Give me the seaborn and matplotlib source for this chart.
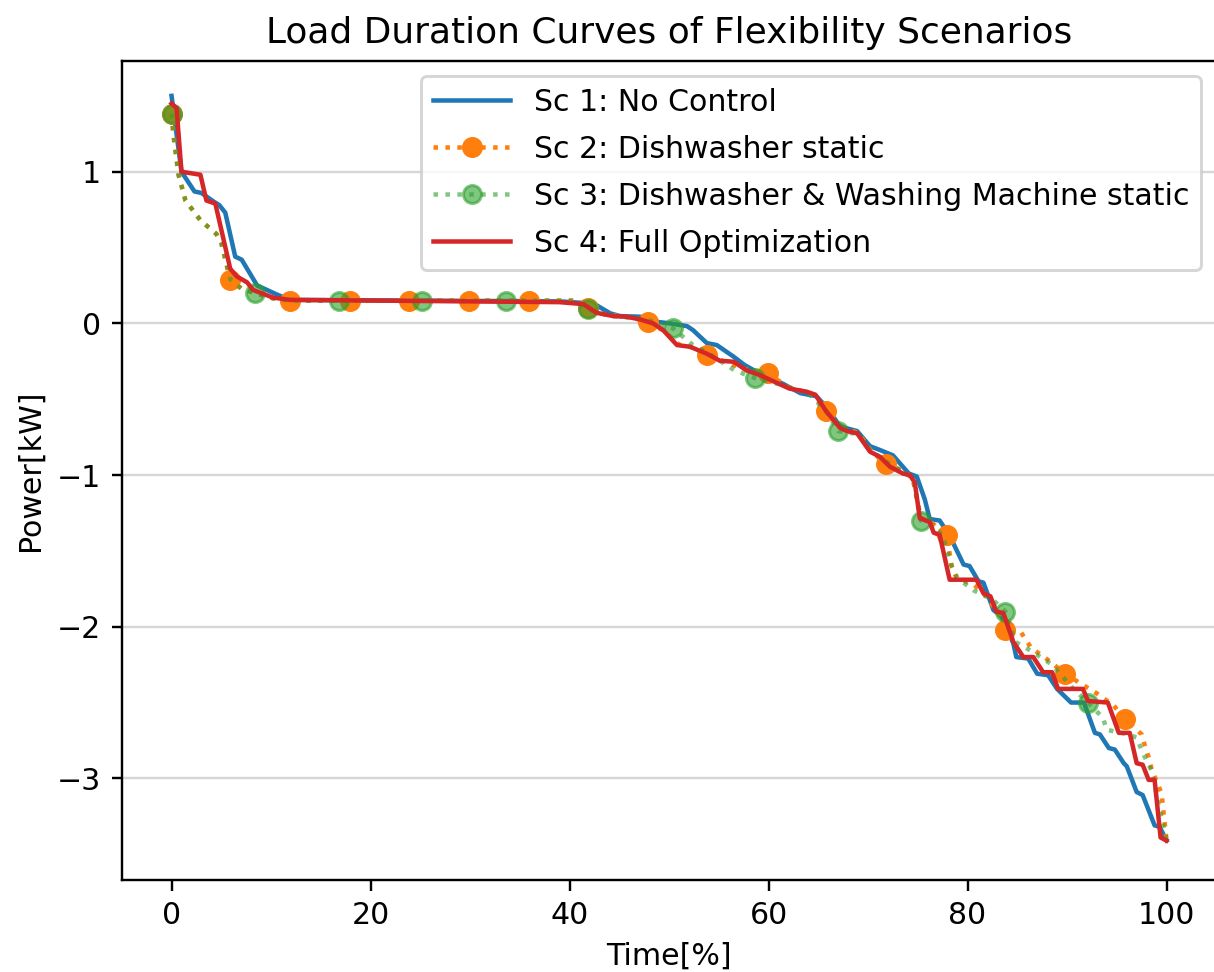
import numpy as np
import matplotlib
matplotlib.use("Agg")
import matplotlib.pyplot as plt
import seaborn as sns
from matplotlib.legend_handler import HandlerTuple

# ---------------- data ----------------
labels = ["Sc 1: No Control",
          "Sc 2: Dishwasher static",
          "Sc 3: Dishwasher & Washing Machine static",
          "Sc 4: Full Optimization"]

sc1_x = [0, 1.0, 2.3, 3.0, 4.3, 4.8, 5.4, 6.4, 7.05, 8.6, 10.6, 11.9, 39, 41.1, 42.7,
         44.1, 45.1, 47.1, 48.8, 50.1, 51.8, 52.4, 53.8, 54.8, 56.5, 57.6, 59.1, 61.5,
         63.2, 64.8, 65.8, 67.2, 68.9, 70.2, 71.2, 72.5, 74.1, 74.9, 75.7, 76.2, 77.2,
         78.2, 79.6, 80.2, 81.1, 81.6, 82.6, 83.4, 84.6, 84.9, 86.1, 87.0, 88.1, 89.0,
         90.4, 91.7, 92.8, 93.3, 94.2, 94.8, 95.7, 96.0, 97.0, 97.6, 98.8, 99.3, 100]
sc1_y = [1.50, 1.0, 0.87, 0.86, 0.80, 0.78, 0.73, 0.44, 0.42, 0.25, 0.19, 0.155, 0.145,
         0.136, 0.12, 0.066, 0.048, 0.044, 0.01, 0.0, -0.018, -0.044, -0.13, -0.143,
         -0.22, -0.275, -0.33, -0.40, -0.46, -0.48, -0.55, -0.68, -0.71, -0.81, -0.835,
         -0.87, -0.99, -1.01, -1.16, -1.29, -1.30, -1.40, -1.59, -1.60, -1.70, -1.71,
         -1.89, -1.93, -2.11, -2.20, -2.21, -2.31, -2.32, -2.41, -2.50, -2.50, -2.70,
         -2.71, -2.80, -2.81, -2.90, -2.92, -3.09, -3.11, -3.31, -3.32, -3.41]

sc2_x = [0, 0.2, 0.7, 1.4, 2.9, 4.5, 5.0, 5.9, 7.0, 8.4, 10.2, 11.9, 40.5, 41.9, 43.5,
         46, 47.9, 49.5, 51, 52.5, 53.8, 55.5, 57.5, 59.9, 62, 64.5, 65.8, 67.2, 69,
         70.3, 71.8, 73.5, 74.5, 75.3, 76.5, 77.9, 78.4, 78.9, 80.6, 81.6, 83.0, 83.8,
         85.3, 86.4, 88.1, 89.8, 91.5, 93, 94.7, 95.8, 97.5, 97.8, 98.2, 98.5, 99.5, 100]
sc2_y = [1.38, 1.24, 0.98, 0.81, 0.68, 0.59, 0.53, 0.29, 0.23, 0.20, 0.165, 0.15, 0.15,
         0.10, 0.06, 0.04, 0.01, -0.05, -0.14, -0.16, -0.21, -0.25, -0.30, -0.33, -0.42,
         -0.47, -0.58, -0.69, -0.72, -0.84, -0.93, -0.97, -1.02, -1.28, -1.32, -1.395,
         -1.60, -1.68, -1.72, -1.78, -1.90, -2.02, -2.03, -2.14, -2.22, -2.31, -2.38,
         -2.44, -2.52, -2.61, -2.71, -2.78, -2.86, -2.94, -3.10, -3.41]
sc2_mx = [0, 5.9, 11.9, 17.9, 23.9, 29.9, 35.9, 41.9, 47.9, 53.8, 59.9, 65.8, 71.8,
          77.9, 83.8, 89.8, 95.8]
sc2_my = [1.38, 0.285, 0.15, 0.15, 0.15, 0.15, 0.15, 0.10, 0.01, -0.21, -0.33, -0.58,
          -0.93, -1.395, -2.02, -2.31, -2.61]

sc3_x = [0, 0.2, 0.7, 1.4, 2.9, 4.5, 5.0, 5.9, 7.0, 8.4, 10.2, 11.9, 40.5, 41.9, 44,
         47.5, 50.4, 52.4, 54, 56.6, 58.6, 61, 64, 65.8, 67.0, 69, 70.3, 72, 74.5, 75.3,
         76.5, 77.5, 78.4, 79, 80.6, 82.5, 83.8, 84.8, 86.4, 88.5, 90.5, 92.1, 93.6,
         94.0, 95.5, 97.0, 97.6, 98.5, 99.3, 100]
sc3_y = [1.38, 1.24, 0.98, 0.81, 0.68, 0.59, 0.53, 0.29, 0.23, 0.20, 0.165, 0.15, 0.15,
         0.092, 0.05, 0.03, -0.033, -0.143, -0.20, -0.31, -0.36, -0.40, -0.46, -0.58,
         -0.71, -0.73, -0.84, -0.92, -1.02, -1.30, -1.33, -1.40, -1.60, -1.68, -1.76,
         -1.82, -1.90, -2.10, -2.16, -2.25, -2.40, -2.50, -2.60, -2.68, -2.70, -2.73,
         -2.83, -2.95, -3.20, -3.41]
sc3_mx = [0, 8.4, 16.8, 25.2, 33.6, 41.9, 50.4, 58.6, 67.0, 75.3, 83.8, 92.1]
sc3_my = [1.38, 0.20, 0.15, 0.15, 0.15, 0.092, -0.033, -0.36, -0.71, -1.30, -1.90, -2.50]

sc4_x = [0, 0.5, 1.0, 2.9, 3.5, 4.4, 5.9, 6.55, 7.6, 8.2, 10.2, 11.9, 39, 41.4, 42.7,
         44.4, 45.7, 47.1, 48.4, 49.4, 50.8, 52.1, 53.8, 55.1, 56.5, 57.8, 59.1, 61.1,
         62.1, 63.8, 64.7, 65.8, 67.2, 67.9, 68.9, 70.2, 71.2, 72.2, 73.5, 74.2, 74.7,
         75.2, 76.2, 76.6, 77.2, 78.2, 80.9, 81.6, 82.3, 82.9, 83.6, 84.6, 85.6, 86.6,
         87.6, 88.5, 89.1, 91.6, 92.1, 94.1, 95.2, 96.3, 97.0, 97.6, 98.2, 98.8, 99.4, 100]
sc4_y = [1.45, 1.42, 1.0, 0.98, 0.81, 0.79, 0.36, 0.31, 0.27, 0.22, 0.17, 0.155, 0.14,
         0.127, 0.07, 0.048, 0.044, 0.026, 0.0, -0.044, -0.143, -0.154, -0.20, -0.246,
         -0.253, -0.31, -0.34, -0.40, -0.43, -0.45, -0.47, -0.58, -0.69, -0.71, -0.725,
         -0.846, -0.88, -0.945, -0.99, -1.0, -1.05, -1.285, -1.31, -1.38, -1.395, -1.69,
         -1.69, -1.78, -1.80, -1.90, -1.91, -2.10, -2.20, -2.20, -2.30, -2.30, -2.41,
         -2.41, -2.49, -2.50, -2.70, -2.70, -2.90, -2.91, -3.01, -3.01, -3.39, -3.41]

x_ticks = [0, 20, 40, 60, 80, 100]
y_ticks = [-3, -2, -1, 0, 1]

# ---------------- figure ----------------
DPI = 216
fig = plt.figure(figsize=(1214 / DPI, 972 / DPI), dpi=DPI)
ax = fig.add_axes([121.8 / 1214, 92 / 972, (1216.3 - 121.8) / 1214, (880 - 60.7) / 972])

c_blue, c_orange, c_green, c_red = "#1f77b4", "#ff7f0e", "#2ca02c", "#d62728"

sns.lineplot(x=sc1_x, y=sc1_y, ax=ax, color=c_blue, lw=1.5, sort=False)
sns.lineplot(x=sc2_x, y=sc2_y, ax=ax, color=c_orange, lw=1.5, linestyle=":", sort=False)
ax.plot(sc2_mx, sc2_my, "o", color=c_orange, ms=6, linestyle="none")
sns.lineplot(x=sc3_x, y=sc3_y, ax=ax, color=c_green, lw=1.5, linestyle=":", alpha=0.6, sort=False)
ax.plot(sc3_mx, sc3_my, "o", color=c_green, ms=6, alpha=0.6, linestyle="none")
sns.lineplot(x=sc4_x, y=sc4_y, ax=ax, color=c_red, lw=1.5, sort=False)

lines = ax.get_lines()
h1 = lines[0]
h2 = (lines[1], lines[2])
h3 = (lines[3], lines[4])
h4 = lines[5]

ax.set_xlim(-5, 105)
ax.set_ylim(-3.67, 1.732)
ax.set_xticks(x_ticks)
ax.set_yticks(y_ticks)
ax.yaxis.grid(True, color="#b0b0b0", alpha=0.5, lw=0.8)
ax.set_axisbelow(True)

ax.set_title("Load Duration Curves of Flexibility Scenarios", fontsize=12)
ax.set_xlabel("Time[%]", fontsize=10)
ax.set_ylabel("Power[kW]", fontsize=10)

ax.legend([h1, h2, h3, h4], labels, loc="upper right",
          handler_map={tuple: HandlerTuple(ndivide=1, pad=0)}, fontsize=10,
          handlelength=2.55, labelspacing=0.6)

fig.savefig("out.png", dpi=DPI)
